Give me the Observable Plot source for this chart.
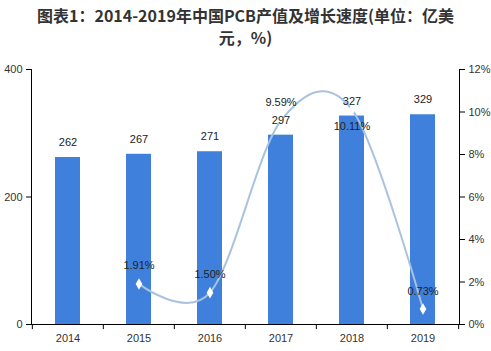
<!DOCTYPE html>
<html><head><meta charset="utf-8">
<script src="https://cdn.jsdelivr.net/npm/d3@7"></script>
<script src="https://cdn.jsdelivr.net/npm/@observablehq/plot@0.6"></script>
<style>
body{margin:0;background:#fff;width:491px;height:351px;overflow:hidden;}
#title{font-family:"Noto Sans CJK SC","Noto Sans",sans-serif;font-weight:bold;font-size:16px;color:#333;text-align:center;line-height:22px;padding-top:4px;height:46px;box-sizing:border-box;}
svg{display:block;}
</style></head>
<body>
<div id="title">图表1：2014-2019年中国PCB产值及增长速度(单位：亿美<br>元，%)</div>
<div id="chart"></div>
<script>
const years = ["2014","2015","2016","2017","2018","2019"];
const output = [262,267,271,297,327,329];
const growthYears = ["2015","2016","2017","2018","2019"];
const growth = [1.91,1.50,9.59,10.11,0.73];
const leftTicks = [0,200,400];
const rightTicks = [0,2,4,6,8,10,12];

const pctToY = d3.scaleLinear([0,12],[0,400]);
const bars = years.map((y,i)=>({year:y, value:output[i]}));
const line = growthYears.map((y,i)=>({year:y, pct:growth[i], yv:pctToY(growth[i])}));
const belowYear = "2018";

const W = 491, H = 305, mL = 31, mR = 32, mT = 23, mB = 27;
const half = (W - mL - mR) / years.length / 2;
const font = '"Liberation Sans", Arial, sans-serif';

const chart = Plot.plot({
  width: W, height: H,
  marginLeft: mL, marginRight: mR, marginTop: mT, marginBottom: mB,
  style: {fontFamily: font, fontSize: "11px", color: "#333", background: "#fff"},
  x: {domain: years, paddingInner: 0.65, paddingOuter: 0.325, axis: null},
  y: {domain: [0,400], axis: null},
  marks: [
    Plot.barY(bars, {x: "year", y: "value", fill: "#3f80dc"}),
    Plot.line(line, {x: "year", y: "yv", curve: "cardinal", stroke: "#a9c3df", strokeWidth: 2}),
    Plot.dot(line, {x: "year", y: "yv", symbol: "diamond", r: 3.5, fill: "#fff", stroke: "none"}),
    Plot.text(bars, {x: "year", y: "value", text: d => String(d.value), dy: -15, fill: "#222", fontSize: 11}),
    Plot.text(line.filter(d => d.year !== belowYear), {x: "year", y: "yv", text: d => d.pct.toFixed(2) + "%", dy: -18, fill: "#222", fontSize: 11, textAnchor: "middle"}),
    Plot.text(line.filter(d => d.year === belowYear), {x: "year", y: "yv", text: d => d.pct.toFixed(2) + "%", dy: 17, fill: "#222", fontSize: 11, textAnchor: "middle"}),
    Plot.frame({anchor: "left", stroke: "#000"}),
    Plot.frame({anchor: "right", stroke: "#000"}),
    Plot.frame({anchor: "bottom", stroke: "#000"}),
    Plot.axisY(leftTicks, {anchor: "left", tickSize: 5, tickPadding: 4, fill: "#333", stroke: "#000", label: null}),
    Plot.axisY(rightTicks.map(p => pctToY(p)), {anchor: "right", tickSize: 5, tickPadding: 4, fill: "#333", stroke: "#000", label: null,
      tickFormat: v => Math.round(pctToY.invert(v)) + "%"}),
    Plot.axisX(years, {anchor: "bottom", tickSize: 0, tickPadding: 10, fill: "#333", label: null}),
    Plot.ruleX(years, {x: d => d, dx: -half, y1: 0, y2: -8, stroke: "#000", clip: false}),
    Plot.ruleX(years.slice(-1), {x: d => d, dx: half, y1: 0, y2: -8, stroke: "#000", clip: false})
  ]
});
document.getElementById("chart").appendChild(chart);
</script>
</body></html>
